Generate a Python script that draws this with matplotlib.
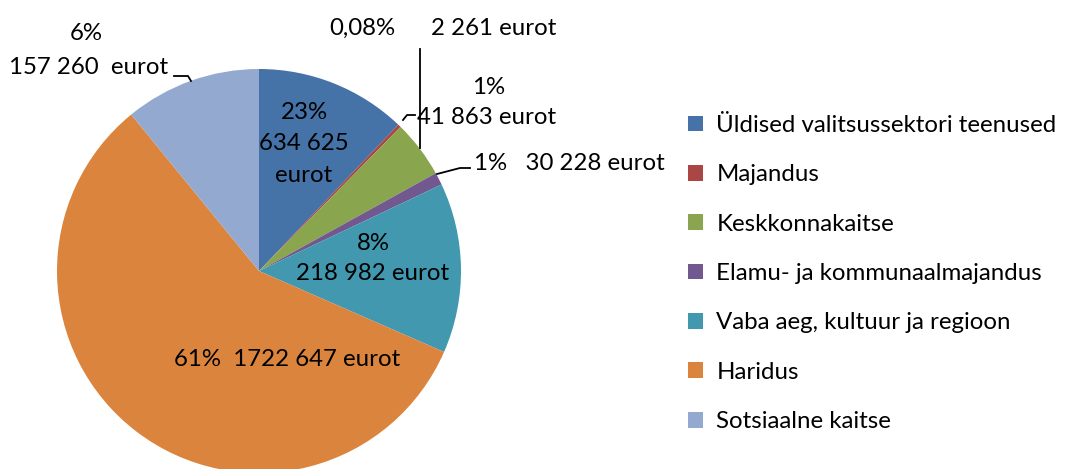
import matplotlib.pyplot as plt

plt.rcParams['font.family'] = ['Lato', 'DejaVu Sans']

categories = ['Üldised valitsussektori teenused', 'Majandus', 'Keskkonnakaitse',
              'Elamu- ja kommunaalmajandus', 'Vaba aeg, kultuur ja regioon',
              'Haridus', 'Sotsiaalne kaitse']
# slice sizes as drawn in the picture (%), the labels are the printed texts
shares = [12.1, 0.25, 4.6, 1.0, 13.6, 57.5, 10.9]
pct_labels = ['23%', '0,08%', '1%', '1%', '8%', '61%', '6%']
amount_labels = ['634 625', '2 261', '41 863', '30 228', '218 982', '1722 647', '157 260']
colors = ['#4572A7', '#AA4643', '#89A54E', '#71588F', '#4198AF', '#DB843D', '#93A9CF']

W, H = 1066, 469
fig = plt.figure(figsize=(W / 100, H / 100), dpi=100)
ax = fig.add_axes([0, 0, 1, 1])

def Y(v):
    # image rows -> axes y
    return H - v

wedges, _ = ax.pie(shares, colors=colors, startangle=90, counterclock=False,
                   center=(259, Y(271)), radius=202,
                   wedgeprops=dict(linewidth=0))
ax.set_xlim(0, W)
ax.set_ylim(0, H)
ax.set_aspect('equal')
ax.axis('off')

fs = 17.3
eu = ' eurot'

# labels
ax.text(304, Y(112), pct_labels[0], ha='center', va='center', fontsize=fs)
ax.text(304, Y(143), amount_labels[0], ha='center', va='center', fontsize=fs)
ax.text(304, Y(175), eu.strip(), ha='center', va='center', fontsize=fs)

ax.text(362, Y(28), pct_labels[1], ha='center', va='center', fontsize=fs)
ax.text(494, Y(28), amount_labels[1] + eu, ha='center', va='center', fontsize=fs)

ax.text(489, Y(87), pct_labels[2], ha='center', va='center', fontsize=fs)
ax.text(487, Y(117), amount_labels[2] + eu, ha='center', va='center', fontsize=fs)

ax.text(474, Y(163), pct_labels[3] + '   ' + amount_labels[3] + eu, ha='left', va='center', fontsize=fs)

ax.text(373, Y(243), pct_labels[4], ha='center', va='center', fontsize=fs)
ax.text(373, Y(274), amount_labels[4] + eu, ha='center', va='center', fontsize=fs)

ax.text(287, Y(360), pct_labels[5] + '  ' + amount_labels[5] + eu, ha='center', va='center', fontsize=fs)

ax.text(86, Y(33), pct_labels[6], ha='center', va='center', fontsize=fs)
ax.text(168, Y(67), amount_labels[6] + ' ' + eu, ha='right', va='center', fontsize=fs)

# leader lines
lw = 1.3
ax.plot([420, 420], [Y(49), Y(148)], color='black', lw=lw)
ax.plot([403, 407, 415], [Y(120), Y(115), Y(115)], color='black', lw=lw)
ax.plot([437, 460, 470], [Y(174), Y(168), Y(168)], color='black', lw=lw)
ax.plot([174, 188, 191], [Y(76), Y(76), Y(81)], color='black', lw=lw)

ax.legend(wedges, categories, loc='upper left', bbox_to_anchor=(688, Y(115)),
          bbox_transform=ax.transData, frameon=False, fontsize=fs,
          handlelength=0.63, handleheight=0.63, handletextpad=0.55,
          labelspacing=1.18, borderpad=0, borderaxespad=0)

fig.savefig('out.png', dpi=100)
